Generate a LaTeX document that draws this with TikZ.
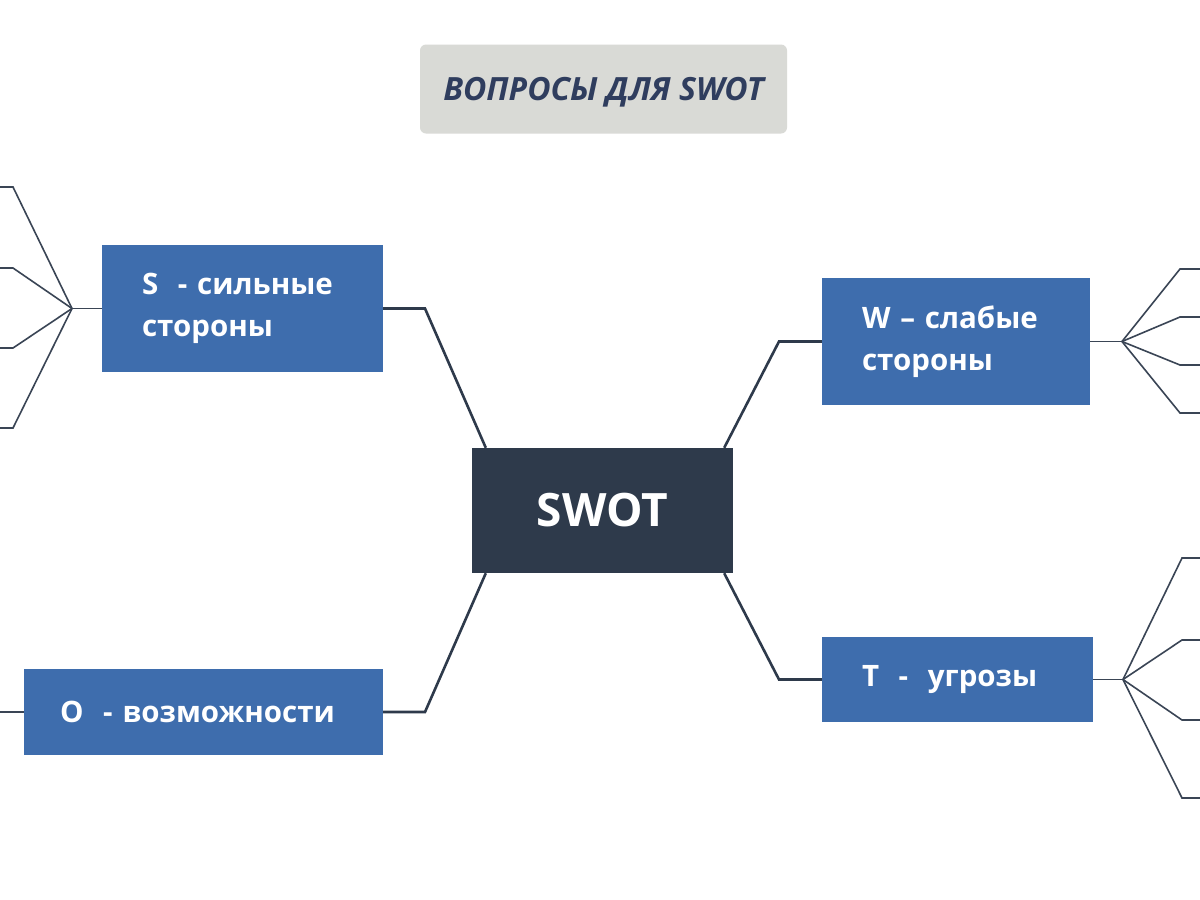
\documentclass[tikz,border=0pt]{standalone}
\usepackage{fontspec}
\setmainfont{Open Sans}
\definecolor{boxblue}{HTML}{3E6DAD}
\definecolor{navy}{HTML}{2E3A4B}
\definecolor{titlegray}{HTML}{D9DAD6}
\definecolor{titletext}{HTML}{2F3D5E}
\definecolor{fanline}{HTML}{3A4555}
\tikzset{
  bluebox/.style={fill=boxblue, draw=none, inner ysep=0pt, text=white, font=\bfseries\fontsize{29.5}{42}\selectfont, align=left},
  conn/.style={draw=navy, line width=2.6pt, line join=miter},
  fan/.style={draw=fanline, line width=1.6pt},
}
\begin{document}
\begin{tikzpicture}[x=1pt,y=-1pt]
\useasboundingbox (0,0) rectangle (1200,900);
\fill[white] (0,0) rectangle (1200,900);
% title
\node[fill=titlegray, rounded corners=6pt, minimum width=367pt, minimum height=89pt, inner sep=0pt, text depth=0pt, text=titletext, font=\bfseries\itshape\fontsize{32}{34}\selectfont] (title) at (603.5,89) {ВОПРОСЫ ДЛЯ SWOT};
% center
\node[fill=navy, minimum width=261pt, minimum height=125pt, inner sep=0pt, text=white, font=\bfseries\fontsize{46}{50}\selectfont] (C) at (602.5,510.5) {SWOT};
% boxes
\node[bluebox, text width=201pt, inner xsep=40pt, minimum height=127pt] (S) at (242.5,308.5) {S\ \ - сильные\\стороны};
\node[bluebox, text width=188pt, inner xsep=40pt, minimum height=127pt] (W) at (956,341.5) {W – слабые\\стороны};
\node[bluebox, text width=317pt, inner xsep=0pt, minimum width=359pt, minimum height=86pt, align=center] (O) at (203.5,712) {\hspace*{-12pt}O\ \ - возможности};
\node[bluebox, text width=271pt, inner xsep=0pt, minimum width=271pt, minimum height=85pt] (T) at (957.5,679.5) {\hspace*{40pt}T\ \ -\ \ угрозы};
% bends
\coordinate (sb) at (425,308.5);
\coordinate (wb) at (779,341.5);
\coordinate (ob) at (425,712);
\coordinate (tb) at (779,679.5);
\draw[conn] (S.east) -- (sb) -- ([xshift=14pt]C.north west);
\draw[conn] ([xshift=-9pt]C.north east) -- (wb) -- (W.west);
\draw[conn] ([xshift=14pt]C.south west) -- (ob) -- (O.east);
\draw[conn] ([xshift=-9pt]C.south east) -- (tb) -- (T.west);
% fans
\coordinate (sf) at (72,308.5);
\coordinate (wf) at (1122,341.5);
\coordinate (tf) at (1123,679.5);
\coordinate (of) at (-2,712);
\draw[fan] (S.west) -- (sf);
\draw[fan] (W.east) -- (wf);
\draw[fan] (T.east) -- (tf);
\draw[fan] (O.west) -- (of);
\foreach \y [count=\i] in {187,268,348,428}{
  \coordinate (sa\i) at (13,\y);
  \coordinate (sx\i) at (-2,\y);
  \draw[fan] (sf) -- (sa\i) -- (sx\i);
}
\foreach \y [count=\i] in {269,317,365,413}{
  \coordinate (wa\i) at (1180,\y);
  \coordinate (wx\i) at (1202,\y);
  \draw[fan] (wf) -- (wa\i) -- (wx\i);
}
\foreach \y [count=\i] in {558,640,720,798}{
  \coordinate (ta\i) at (1182,\y);
  \coordinate (tx\i) at (1202,\y);
  \draw[fan] (tf) -- (ta\i) -- (tx\i);
}
\end{tikzpicture}
\end{document}
